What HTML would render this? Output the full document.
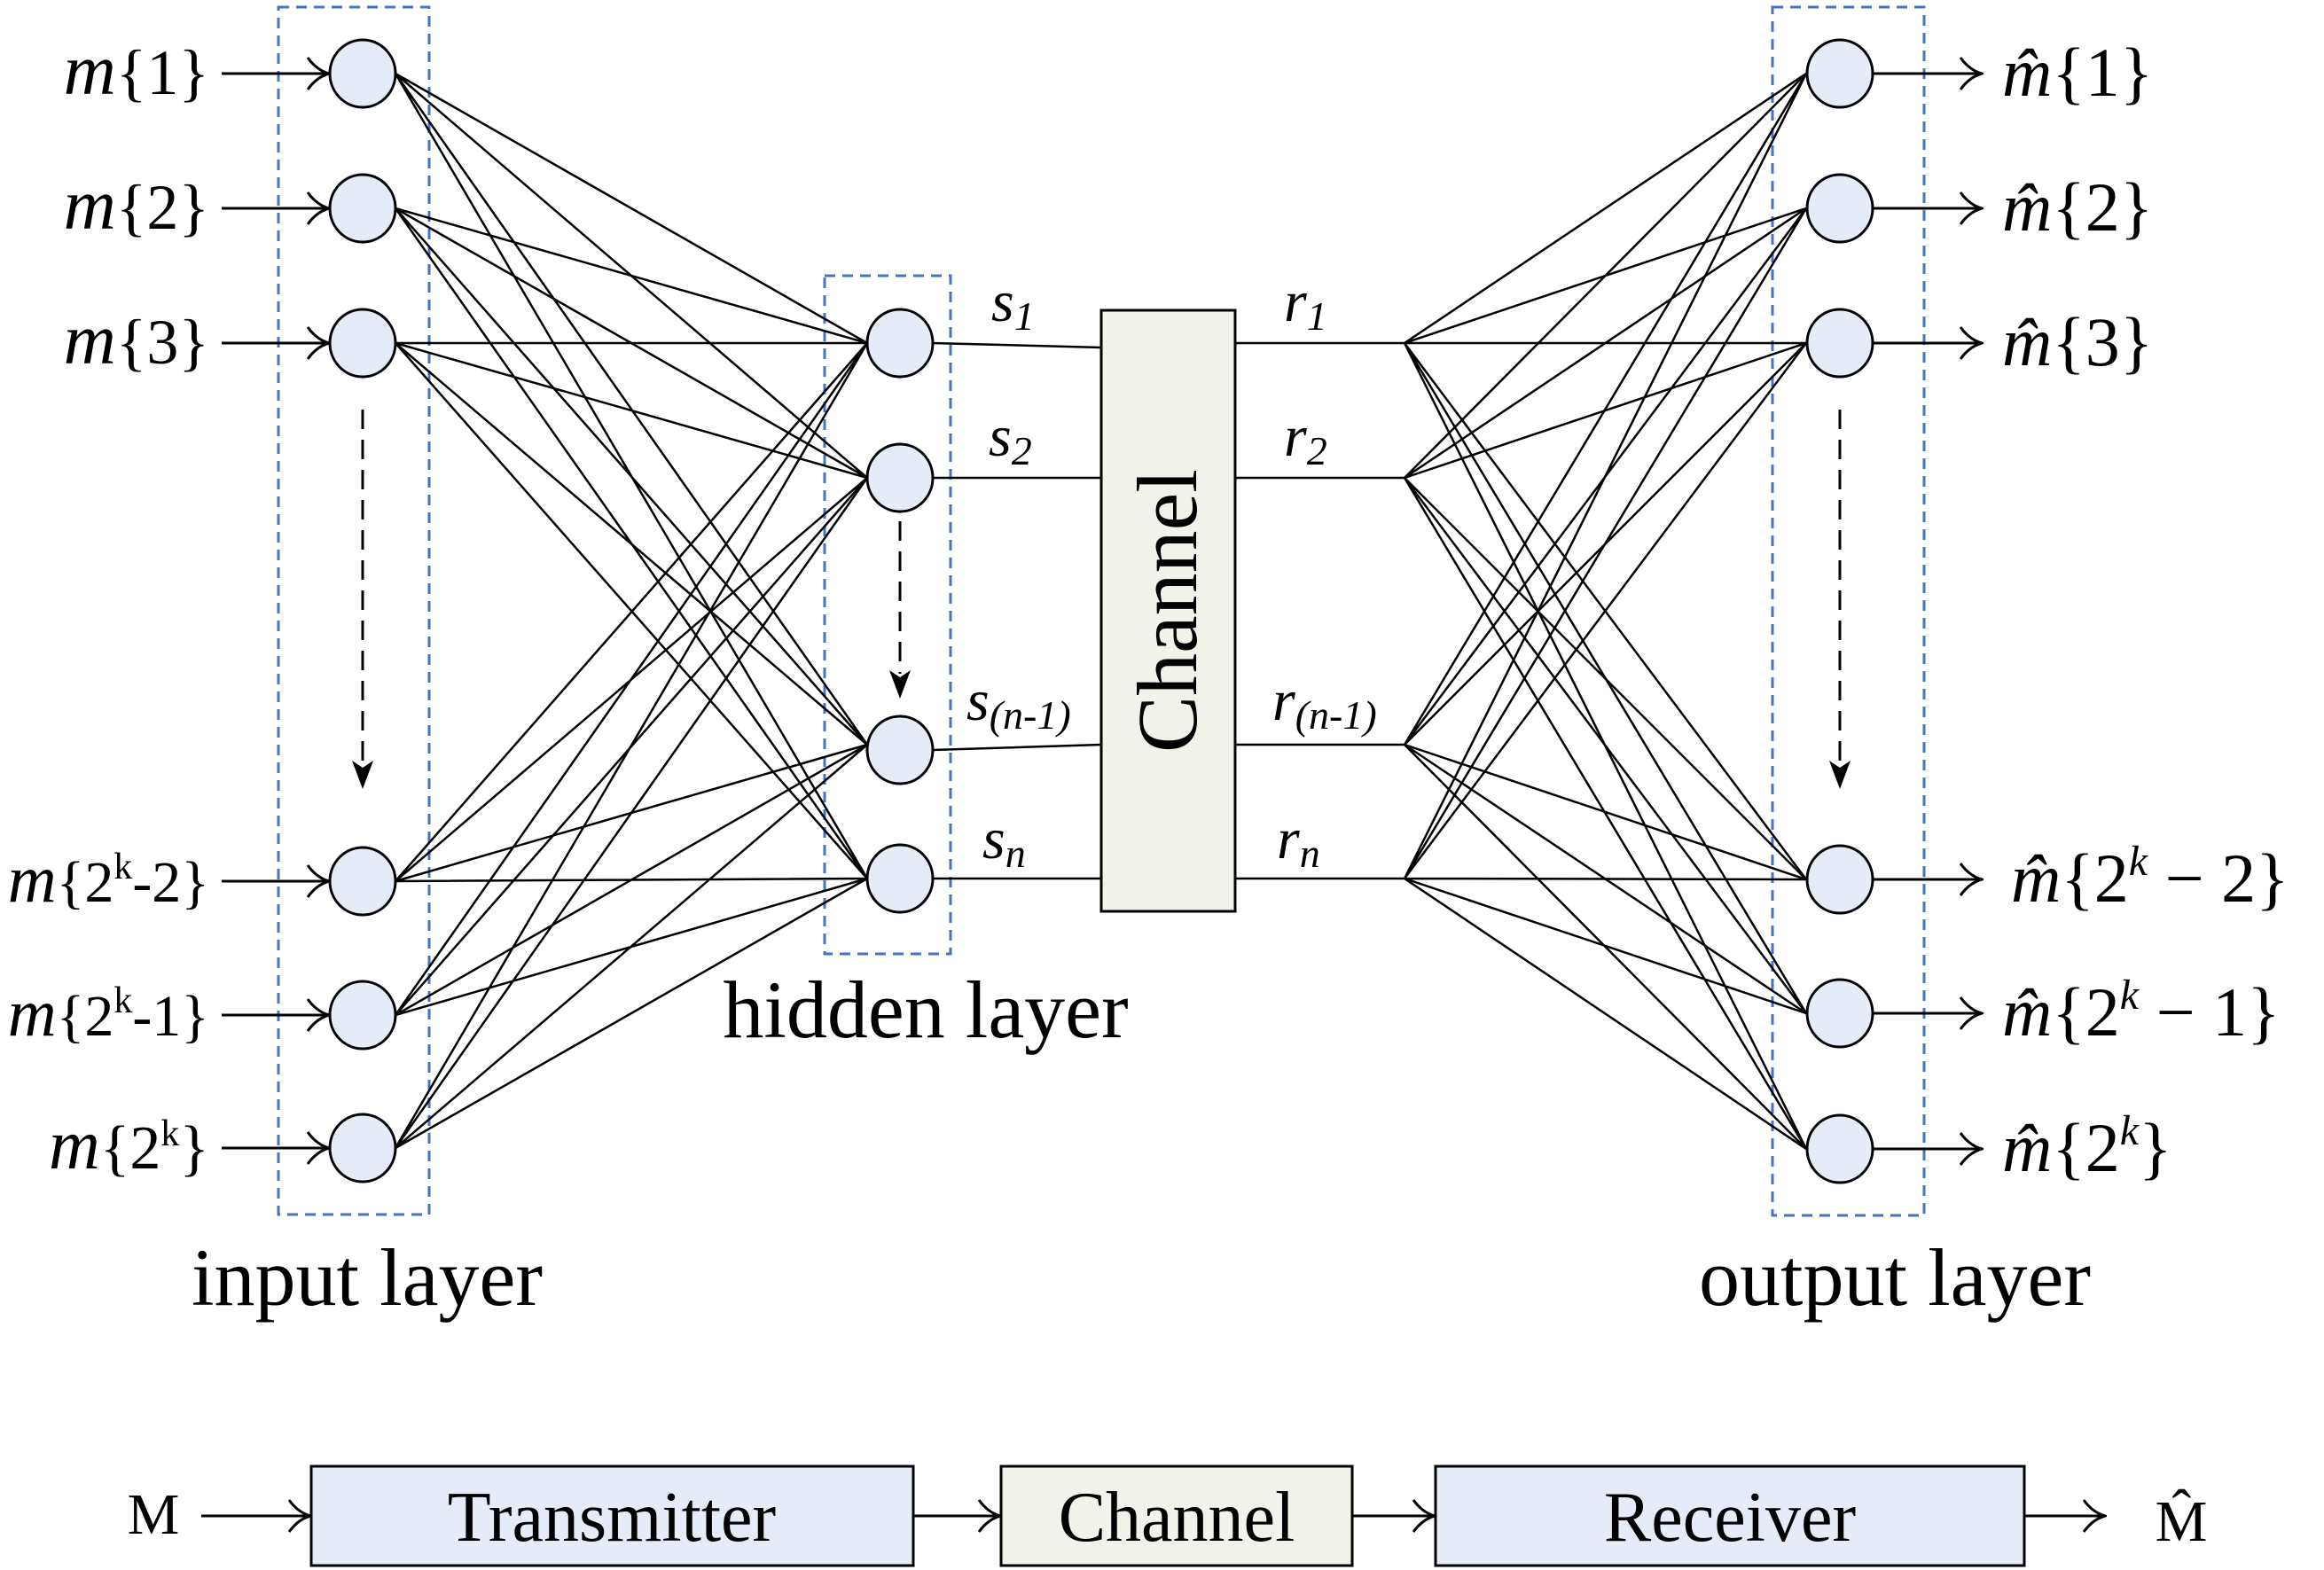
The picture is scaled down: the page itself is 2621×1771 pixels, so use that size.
<!DOCTYPE html>
<html><head><meta charset="utf-8"><style>
html,body{margin:0;padding:0;background:#fff}
svg{display:block}
.s{font-family:"Liberation Serif",serif}
</style></head><body>
<svg width="2621" height="1771" viewBox="0 0 2621 1771" xmlns="http://www.w3.org/2000/svg">
<defs>
<marker id="oa" markerWidth="30" markerHeight="40" refX="28" refY="20" orient="auto" markerUnits="userSpaceOnUse">
<path d="M4 2 Q14 16 28 20 Q14 24 4 38" fill="none" stroke="#000" stroke-width="3"/>
</marker>
</defs>

<g fill="none" stroke="#4472c4" stroke-width="3" stroke-dasharray="12 8">
<rect x="314" y="8" width="170" height="1362"/>
<rect x="930" y="311" width="142" height="765"/>
<rect x="1999" y="8" width="171" height="1363"/>
</g>

<path fill="none" stroke="#000" stroke-width="2.5" d="
M446 83L978 387M446 83L978 539M446 83L978 840M446 83L978 991
M446 235L978 387M446 235L978 539M446 235L978 840M446 235L978 991
M446 387L978 387M446 387L978 539M446 387L978 840M446 387L978 991
M446 994L978 387M446 994L978 539M446 994L978 840M446 994L978 991
M446 1145L978 387M446 1145L978 539M446 1145L978 840M446 1145L978 991
M446 1295L978 387M446 1295L978 539M446 1295L978 840M446 1295L978 991
M1584 387L2037 83M1584 387L2037 235M1584 387L2037 387M1584 387L2037 992M1584 387L2037 1143M1584 387L2037 1296
M1584 539L2037 83M1584 539L2037 235M1584 539L2037 387M1584 539L2037 992M1584 539L2037 1143M1584 539L2037 1296
M1584 840L2037 83M1584 840L2037 235M1584 840L2037 387M1584 840L2037 992M1584 840L2037 1143M1584 840L2037 1296
M1584 991L2037 83M1584 991L2037 235M1584 991L2037 387M1584 991L2037 992M1584 991L2037 1143M1584 991L2037 1296
M1052 387L1242 392M1052 539L1242 539M1052 846L1242 840M1052 991L1242 991
M1393 387L1584 387M1393 539L1584 539M1393 840L1584 840M1393 991L1584 991
"/>

<g stroke="#000" stroke-width="3" marker-end="url(#oa)">
<line x1="250" y1="83" x2="371" y2="83"/>
<line x1="250" y1="235" x2="371" y2="235"/>
<line x1="250" y1="387" x2="371" y2="387"/>
<line x1="250" y1="994" x2="371" y2="994"/>
<line x1="250" y1="1145" x2="371" y2="1145"/>
<line x1="250" y1="1295" x2="371" y2="1295"/>
<line x1="2113" y1="83" x2="2235" y2="83"/>
<line x1="2113" y1="235" x2="2235" y2="235"/>
<line x1="2113" y1="387" x2="2235" y2="387"/>
<line x1="2113" y1="992" x2="2235" y2="992"/>
<line x1="2113" y1="1143" x2="2235" y2="1143"/>
<line x1="2113" y1="1296" x2="2235" y2="1296"/>
</g>

<g stroke="#000" stroke-width="3" stroke-dasharray="22 12">
<line x1="409" y1="462" x2="409" y2="860"/>
<line x1="1015" y1="588" x2="1015" y2="760"/>
<line x1="2075" y1="462" x2="2075" y2="860"/>
</g>
<g fill="#000">
<path d="M397 858 L409 890 L421 858 L409 866Z"/>
<path d="M1003 756 L1015 788 L1027 756 L1015 764Z"/>
<path d="M2063 858 L2075 890 L2087 858 L2075 866Z"/>
</g>

<g fill="#e6ecf7" stroke="#000" stroke-width="3">
<ellipse cx="409" cy="83" rx="37" ry="38"/>
<ellipse cx="409" cy="235" rx="37" ry="38"/>
<ellipse cx="409" cy="387" rx="37" ry="38"/>
<ellipse cx="409" cy="994" rx="37" ry="38"/>
<ellipse cx="409" cy="1145" rx="37" ry="38"/>
<ellipse cx="409" cy="1295" rx="37" ry="38"/>
<ellipse cx="1015" cy="387" rx="37" ry="38"/>
<ellipse cx="1015" cy="539" rx="37" ry="38"/>
<ellipse cx="1015" cy="846" rx="37" ry="38"/>
<ellipse cx="1015" cy="991" rx="37" ry="38"/>
<ellipse cx="2075" cy="83" rx="37" ry="38"/>
<ellipse cx="2075" cy="235" rx="37" ry="38"/>
<ellipse cx="2075" cy="387" rx="37" ry="38"/>
<ellipse cx="2075" cy="992" rx="37" ry="38"/>
<ellipse cx="2075" cy="1143" rx="37" ry="38"/>
<ellipse cx="2075" cy="1296" rx="37" ry="38"/>
</g>

<rect x="1242" y="350" width="151" height="678" fill="#f1f2ea" stroke="#000" stroke-width="3"/>
<text class="s" transform="translate(1349 689) rotate(-90)" text-anchor="middle" font-size="96">Channel</text>

<g class="s" font-size="72" text-anchor="end">
<text x="236" y="106"><tspan font-style="italic" font-size="82">m</tspan>{1}</text>
<text x="236" y="258"><tspan font-style="italic" font-size="82">m</tspan>{2}</text>
<text x="236" y="410"><tspan font-style="italic" font-size="82">m</tspan>{3}</text>
</g>
<g class="s" font-size="66" text-anchor="end">
<text x="236" y="1017"><tspan font-style="italic" font-size="76">m</tspan>{2<tspan font-size="42" dy="-26">k</tspan><tspan dy="26">-2}</tspan></text>
<text x="236" y="1168"><tspan font-style="italic" font-size="76">m</tspan>{2<tspan font-size="42" dy="-26">k</tspan><tspan dy="26">-1}</tspan></text>
<text x="236" y="1318"><tspan font-style="italic" font-size="80">m</tspan><tspan font-size="70">{2</tspan><tspan font-size="42" dy="-26">k</tspan><tspan dy="26" font-size="70">}</tspan></text>
</g>

<g class="s" font-size="78">
<text x="2258" y="108"><tspan font-style="italic">m̂</tspan>{1}</text>
<text x="2258" y="260"><tspan font-style="italic">m̂</tspan>{2}</text>
<text x="2258" y="412"><tspan font-style="italic">m̂</tspan>{3}</text>
<text x="2268" y="1017"><tspan font-style="italic">m̂</tspan>{2<tspan font-size="48" dy="-30" font-style="italic">k</tspan><tspan dy="30"> − 2}</tspan></text>
<text x="2258" y="1168"><tspan font-style="italic">m̂</tspan>{2<tspan font-size="48" dy="-30" font-style="italic">k</tspan><tspan dy="30"> − 1}</tspan></text>
<text x="2258" y="1321"><tspan font-style="italic">m̂</tspan>{2<tspan font-size="48" dy="-30" font-style="italic">k</tspan><tspan dy="30">}</tspan></text>
</g>

<g class="s" font-style="italic" font-size="66">
<text x="1118" y="362">s<tspan font-size="46" dy="10">1</tspan></text>
<text x="1115" y="514">s<tspan font-size="46" dy="10">2</tspan></text>
<text x="1090" y="812">s<tspan font-size="46" dy="10">(n-1)</tspan></text>
<text x="1108" y="968">s<tspan font-size="46" dy="10">n</tspan></text>
<text x="1448" y="362">r<tspan font-size="46" dy="10">1</tspan></text>
<text x="1448" y="514">r<tspan font-size="46" dy="10">2</tspan></text>
<text x="1435" y="812">r<tspan font-size="46" dy="10">(n-1)</tspan></text>
<text x="1440" y="968">r<tspan font-size="46" dy="10">n</tspan></text>
</g>

<g class="s" font-size="92" text-anchor="middle">
<text x="414" y="1472">input layer</text>
<text x="1044" y="1170">hidden layer</text>
<text x="2137" y="1472">output layer</text>
</g>

<rect x="351" y="1654" width="679" height="112" fill="#e6ecf7" stroke="#000" stroke-width="3"/>
<rect x="1129" y="1654" width="396" height="112" fill="#f1f2ea" stroke="#000" stroke-width="3"/>
<rect x="1619" y="1654" width="664" height="112" fill="#e6ecf7" stroke="#000" stroke-width="3"/>
<g stroke="#000" stroke-width="3" marker-end="url(#oa)">
<line x1="227" y1="1710" x2="350" y2="1710"/>
<line x1="1030" y1="1710" x2="1128" y2="1710"/>
<line x1="1525" y1="1710" x2="1618" y2="1710"/>
<line x1="2283" y1="1710" x2="2374" y2="1710"/>
</g>
<g class="s" font-size="80" text-anchor="middle">
<text x="690" y="1738">Transmitter</text>
<text x="1327" y="1738">Channel</text>
<text x="1951" y="1738">Receiver</text>
<text x="173" y="1730" font-size="66">M</text>
<text x="2460" y="1738" font-size="66">M̂</text>
</g>
</svg>
</body></html>
